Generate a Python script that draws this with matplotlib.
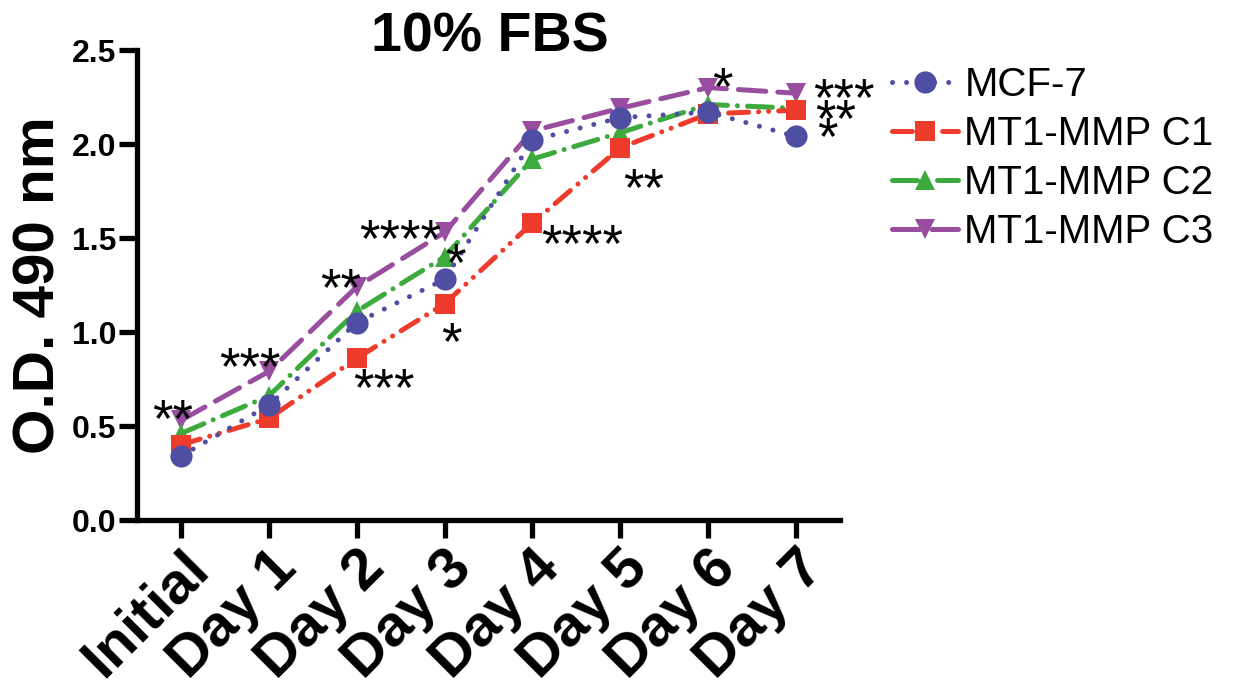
import matplotlib
matplotlib.use("Agg")
import matplotlib.pyplot as plt

plt.rcParams['font.family'] = ['Liberation Sans', 'DejaVu Sans']

# data
days = ["Initial", "Day 1", "Day 2", "Day 3", "Day 4", "Day 5", "Day 6", "Day 7"]
mcf7 = [0.34, 0.61, 1.05, 1.28, 2.02, 2.14, 2.17, 2.04]
mt1_c1 = [0.40, 0.54, 0.86, 1.15, 1.58, 1.98, 2.16, 2.18]
mt1_c2 = [0.46, 0.66, 1.11, 1.40, 1.92, 2.06, 2.21, 2.19]
mt1_c3 = [0.53, 0.79, 1.24, 1.53, 2.07, 2.19, 2.30, 2.27]
series_names = ["MCF-7", "MT1-MMP C1", "MT1-MMP C2", "MT1-MMP C3"]

# significance marks: (text, series index, day index)
stars = [
    ("**", 3, 0), ("***", 3, 1), ("**", 3, 2), ("****", 3, 3),
    ("*", 2, 3), ("***", 1, 2), ("*", 1, 3), ("****", 1, 4),
    ("**", 1, 5), ("*", 3, 6), ("***", 3, 7), ("**", 1, 7), ("*", 0, 7),
]
# text offsets in pixels (layout only)
star_offsets = [
    (-8, -16), (-19, -13), (-16, -18), (-44, -24),
    (11, -23), (27, -47), (7, -55), (50, -38),
    (23, -57), (14, -16), (48, -22), (40, -26), (31, -18),
]

values = [mcf7, mt1_c1, mt1_c2, mt1_c3]
colors = ["#4E4FA2", "#EE3B2B", "#3DAA3E", "#984D9E"]
markers = ["o", "s", "^", "v"]
msizes = [16, 15, 15, 15]
dashes = [(0.01, 2.8), (4, 2, 0.01, 2, 0.01, 2), (5, 2, 0.01, 2), (5.5, 2.4)]
zorders = [6, 5, 4, 3]

fig = plt.figure(figsize=(12.37, 6.88), dpi=100)
ax = fig.add_axes([137 / 1237, 1 - 520 / 688, 703 / 1237, 470 / 688])

x = list(range(len(days)))
lines = []
for i in range(4):
    ln, = ax.plot(x, values[i], color=colors[i], marker=markers[i], markersize=msizes[i],
                  linewidth=3.6, dashes=dashes[i], dash_capstyle='round',
                  markeredgewidth=0, label=series_names[i], zorder=zorders[i], clip_on=False)
    lines.append(ln)

for (txt, s, d), (dx, dy) in zip(stars, star_offsets):
    ax.annotate(txt, (d, values[s][d]), xytext=(dx, dy), textcoords='offset pixels',
                ha='center', va='baseline', fontsize=38, zorder=10)

ax.set_xlim(-0.5, 7.5)
ax.set_ylim(0, 2.5)
ax.set_yticks([0.0, 0.5, 1.0, 1.5, 2.0, 2.5])
ax.set_yticklabels(["0.0", "0.5", "1.0", "1.5", "2.0", "2.5"], fontsize=23, fontweight='bold')
ax.set_xticks(x)
ax.set_xticklabels(days, fontsize=42, fontweight='bold', rotation=45, ha='right',
                   va='top', rotation_mode='anchor')

for sp in ['top', 'right']:
    ax.spines[sp].set_visible(False)
for sp in ['left', 'bottom']:
    ax.spines[sp].set_linewidth(3.8)
ax.tick_params(axis='both', width=3.8, length=13, pad=2)

ax.set_ylabel("O.D. 490 nm", fontsize=42, fontweight='bold')
ax.yaxis.set_label_coords(-0.10, 0.5)

# title placed explicitly so it sits just on the top of the axis
fig.text(490 / 1237, 1 - 52 / 688, "10% FBS", fontsize=40, fontweight='bold',
         ha='center', va='baseline')

ax.legend(handles=lines, loc='upper left', bbox_to_anchor=(892 / 1237, 1 - 66 / 688),
          bbox_transform=fig.transFigure, frameon=False, fontsize=29, borderpad=0,
          borderaxespad=0, handlelength=1.65, handletextpad=0.15, labelspacing=0.27)

fig.savefig("out.png", dpi=100)
